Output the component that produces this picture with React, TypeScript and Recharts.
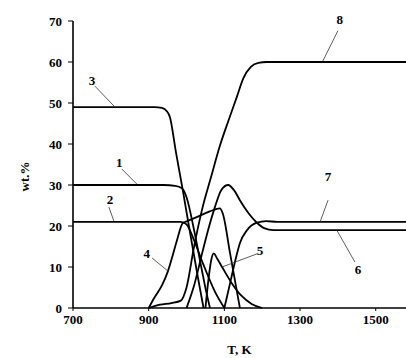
import { LineChart, Line, XAxis, YAxis, ReferenceLine, ReferenceDot } from "recharts";

// [T, wt.%] pairs
const curve1 = [[700, 30], [940, 30], [970, 29.8], [988, 29.2], [1000, 27], [1020, 19], [1040, 9.5], [1052, 4], [1062, 0]];
const curve2 = [[700, 21], [985, 21], [1000, 20.4], [1020, 16.5], [1045, 10.5], [1075, 4], [1100, 0]];
const curve3 = [[700, 49], [915, 49], [935, 48.8], [948, 48], [956, 46.6], [972, 38], [990, 28.8], [1010, 18], [1030, 7.5], [1045, 0]];
const curve4 = [[900, 0], [915, 2.5], [935, 5.5], [951, 9], [964, 13], [975, 16.6], [990, 20.7], [1005, 21.3], [1030, 22.3], [1060, 23.5], [1080, 24.2], [1088, 24.3], [1096, 23], [1115, 13.4], [1141, 0]];
const curve5 = [[1050, 0], [1058, 7], [1066, 12], [1072, 13.3], [1080, 12.2], [1094, 10], [1120, 6], [1145, 3], [1172, 1], [1200, 0]];
const curve6 = [[1000, 0], [1020, 5.5], [1043, 14], [1060, 20], [1075, 24.6], [1092, 28.8], [1110, 30], [1125, 28.8], [1141, 26.3], [1165, 23], [1186, 20.8], [1205, 19.5], [1230, 19], [1580, 19]];
const curve7 = [[1100, 0], [1115, 6], [1130, 12], [1141, 15.8], [1160, 19], [1186, 20.8], [1210, 21.2], [1240, 21], [1580, 21]];
const curve8 = [[900, 0], [930, 0.8], [960, 1.2], [985, 1.8], [1000, 5], [1020, 15], [1041, 24], [1065, 32], [1088, 39.5], [1110, 45.5], [1133, 51.5], [1150, 56], [1170, 58.8], [1190, 59.8], [1212, 60], [1580, 60]];

const curves = [curve1, curve2, curve3, curve4, curve5, curve6, curve7, curve8];

// curve number labels: text position and leader line ends
const labelNames = ["1", "2", "3", "4", "5", "6", "7", "8"];
const labelAt = [[822, 35.6], [798, 26.4], [750, 55.4], [895, 13.4], [1194, 14.1], [1453, 9.3], [1374, 32.2], [1405, 70.3]];
const leaderFrom = [[829, 33.9], [795, 24.6], [758, 54.1], [909, 12.2], [1186, 13.2], [1445, 11.2], [1374, 26.3], [1400, 67.6]];
const leaderTo = [[869, 30.2], [808, 21.2], [811, 49], [951, 9], [1094, 10], [1397, 19], [1353, 21], [1360, 60.2]];

const xTicks = [700, 900, 1100, 1300, 1500];
const yTicks = [0, 10, 20, 30, 40, 50, 60, 70];

const font = "'Liberation Serif', 'Times New Roman', serif";
const tickStyle = { fontSize: 13, fill: "#000", fontFamily: font, fontWeight: "bold" };

export default function App() {
  return (
    <div style={{ position: "absolute", left: 0, top: 0, width: 406, height: 358, overflow: "hidden", background: "#fff" }}>
      <LineChart width={406} height={358} margin={{ top: 21, right: 0, bottom: 0, left: 0 }}>
        <XAxis
          type="number"
          dataKey="t"
          domain={[700, 1580]}
          ticks={xTicks}
          allowDataOverflow
          height={50}
          tick={tickStyle}
          tickSize={3}
          tickMargin={4}
          axisLine={{ stroke: "#000", strokeWidth: 1.6 }}
          tickLine={{ stroke: "#000" }}
          label={{ value: "T, K", position: "insideBottom", offset: 4, style: { ...tickStyle } }}
        />
        <YAxis
          type="number"
          domain={[0, 70]}
          ticks={yTicks}
          width={73}
          tick={tickStyle}
          tickSize={5}
          tickMargin={6}
          axisLine={{ stroke: "#000", strokeWidth: 1.6 }}
          tickLine={{ stroke: "#000" }}
          label={({ viewBox }: any) => (
            <text
              x={viewBox.x + 24}
              y={viewBox.y + viewBox.height / 2 + 12}
              transform={`rotate(-90 ${viewBox.x + 24} ${viewBox.y + viewBox.height / 2 + 12})`}
              textAnchor="middle"
              dominantBaseline="central"
              style={tickStyle}
            >
              wt.%
            </text>
          )}
        />
        {curves.map((c, i) => (
          <Line
            key={i}
            data={c.map(([t, v]) => ({ t, v }))}
            dataKey="v"
            type="monotone"
            stroke="#000"
            strokeWidth={1.8}
            dot={false}
            isAnimationActive={false}
          />
        ))}
        {labelNames.map((n, i) => (
          <ReferenceLine
            key={"l" + n}
            segment={[
              { x: leaderFrom[i][0], y: leaderFrom[i][1] },
              { x: leaderTo[i][0], y: leaderTo[i][1] },
            ]}
            stroke="#333"
            strokeWidth={0.8}
            ifOverflow="visible"
          />
        ))}
        {labelNames.map((n, i) => (
          <ReferenceDot
            key={"d" + n}
            x={labelAt[i][0]}
            y={labelAt[i][1]}
            r={0}
            stroke="none"
            fill="none"
            ifOverflow="visible"
            label={{ value: n, position: "center", style: { ...tickStyle, fontSize: 13 } }}
          />
        ))}
      </LineChart>
    </div>
  );
}
